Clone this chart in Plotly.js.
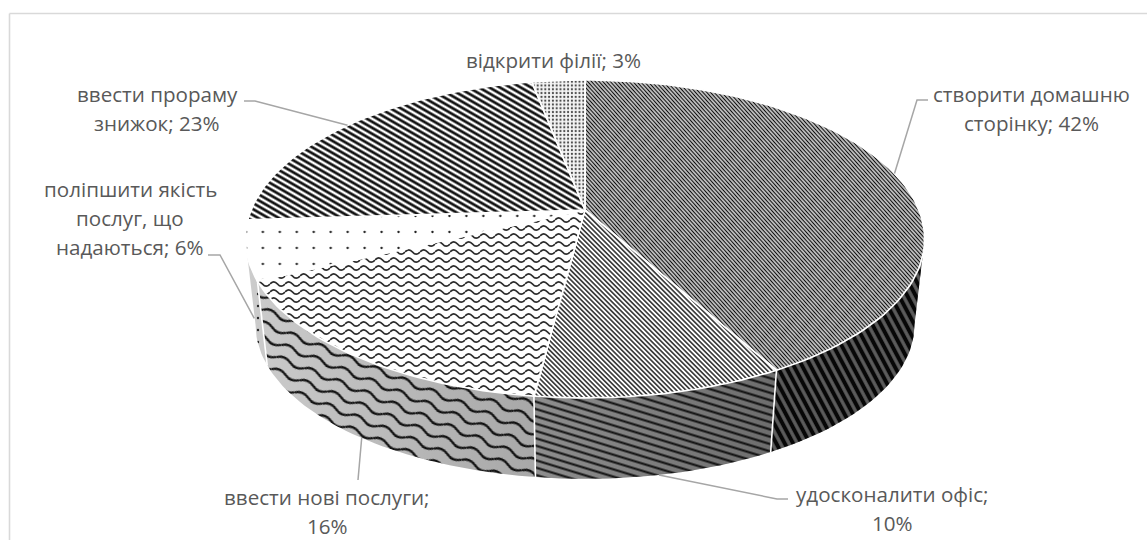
<!DOCTYPE html>
<html lang="uk">
<head>
<meta charset="utf-8">
<title>Кругова діаграма</title>
<script src="https://cdn.plot.ly/plotly-3.0.1.min.js"></script>
<style>
  html, body { margin: 0; padding: 0; background: #fff; }
  #chart { width: 1147px; height: 540px; }
</style>
</head>
<body>
<div id="chart"></div>
<script>
// Slice data, clockwise from twelve o'clock
const categories = ['створити домашню сторінку', 'удосконалити офіс', 'ввести нові послуги',
  'поліпшити якість послуг, що надаються', 'ввести прораму знижок', 'відкрити філії'];
const values = [42, 10, 16, 6, 23, 3];

// How each label wraps
const labelLines = [
  ['створити домашню', 'сторінку; 42%'],
  ['удосконалити офіс;', '10%'],
  ['ввести нові послуги;', '16%'],
  ['поліпшити якість', 'послуг, що', 'надаються; 6%'],
  ['ввести прораму', 'знижок; 23%'],
  ['відкрити філії; 3%']
];
const labelCenterX = [1031, 892, 327, 130, 157, 553];
const labelFirstY = [94, 494, 497, 189, 94, 60];
const labelLineStep = 29;

// Leader elbows: label end, then bend; the third point is the slice anchor
const leaderStart = [[928, 100], [788, 499], [358, 480], [208, 255], [244, 101], null];
const leaderBend = [[917, 100], [777, 499], null, [220, 255], [255, 101], null];
const leaderDepth = [0, 1, 1, 0.8, 0, 0];

// Perspective model of the tilted disc
const cx = 585, cyTop = 210, cyBottom = 296.6;
const radiusX = 334, radiusY = 153.7, tilt = 0.182, bottomScale = 0.97;

function rimPoint(deg, depth) {
  const t = deg * Math.PI / 180, u = Math.sin(t), v = Math.cos(t), w = 1 + tilt * v;
  const topX = cx + radiusX * u / w, topY = cyTop - radiusY * v / w;
  const lowX = cx + bottomScale * radiusX * u / w, lowY = cyBottom - bottomScale * radiusY * v / w;
  return [topX + (lowX - topX) * depth, topY + (lowY - topY) * depth];
}
function arc(from, to, depth) {
  const n = Math.max(2, Math.ceil(Math.abs(to - from) / 1.5));
  const pts = [];
  for (let i = 0; i <= n; i++) pts.push(rimPoint(from + (to - from) * i / n, depth));
  return pts;
}

const total = values.reduce((a, b) => a + b, 0);
const startDeg = [], endDeg = [];
values.reduce((acc, v, i) => {
  startDeg[i] = acc / total * 360;
  endDeg[i] = (acc + v) / total * 360;
  return acc + v;
}, 0);

// Part of the wall that faces the viewer
const horizonDeg = 90 + Math.asin(tilt) * 180 / Math.PI;
const wallFrom = horizonDeg, wallTo = 360 - horizonDeg;

// Fill styles for the top face and the wall of each slice
const topPatterns = [
  { shape: '-', size: 2.8, solidity: 0.5, fgcolor: '#0d0d0d', bgcolor: '#f2f2f2' },
  { shape: '-', size: 3.4, solidity: 0.42, fgcolor: '#1a1a1a', bgcolor: '#ffffff' },
  { shape: '-', size: 8, solidity: 0.2, fgcolor: '#333333', bgcolor: '#ffffff' },
  { shape: '.', size: 16, solidity: 0.016, fgcolor: '#222222', bgcolor: '#ffffff' },
  { shape: '-', size: 5.2, solidity: 0.52, fgcolor: '#111111', bgcolor: '#ffffff' },
  { shape: '.', size: 3.8, solidity: 0.26, fgcolor: '#444444', bgcolor: '#f4f4f4' }
];
const sidePatterns = [
  { shape: '-', size: 7.4, solidity: 0.55, fgcolor: '#0d0d0d', bgcolor: '#b8b8b8' },
  { shape: '-', size: 7, solidity: 0.3, fgcolor: '#1a1a1a', bgcolor: '#d8d8d8' },
  { shape: '-', size: 13, solidity: 0.2, fgcolor: '#222222', bgcolor: '#ffffff' },
  { shape: '.', size: 12, solidity: 0.03, fgcolor: '#333333', bgcolor: '#ffffff' },
  { shape: '-', size: 5, solidity: 0.5, fgcolor: '#111111', bgcolor: '#ffffff' },
  { shape: '.', size: 4, solidity: 0.4, fgcolor: '#333333', bgcolor: '#ffffff' }
];
const topTransforms = ['rotate(48)', 'rotate(45)', '', 'scale(1.06,1)', 'rotate(30)', ''];
const sideTransforms = ['rotate(62)', 'rotate(17)', 'rotate(22)', '', '', ''];
const wavyIndex = 2;
const wavyTop = { w: 15, h: 8, amp: 2.2, width: 1.8, color: '#2b2b2b' };
const wavySide = { w: 30, h: 13, amp: 2.5, width: 2.3, color: '#1a1a1a' };

function polygon(pts, extra) {
  return Object.assign({
    x: pts.map(p => p[0]), y: pts.map(p => p[1]),
    type: 'scatter', mode: 'lines', fill: 'toself',
    hoverinfo: 'skip', showlegend: false
  }, extra);
}

const traces = [];
const sideTraceIdx = {}, topTraceIdx = {};

// Walls
values.forEach((v, i) => {
  const a = Math.max(startDeg[i], wallFrom), b = Math.min(endDeg[i], wallTo);
  if (b <= a) return;
  const pts = arc(a, b, 0).concat(arc(b, a, 1));
  pts.push(pts[0]);
  sideTraceIdx[i] = traces.length;
  traces.push(polygon(pts, {
    name: categories[i] + ' (стінка)',
    line: { width: 0, color: 'rgba(0,0,0,0)' },
    fillpattern: sidePatterns[i], fillcolor: sidePatterns[i].bgcolor
  }));
});

// Shading across the wall, darker to the right
const wallPts = arc(wallFrom, wallTo, 0).concat(arc(wallTo, wallFrom, 1));
wallPts.push(wallPts[0]);
traces.push(polygon(wallPts, {
  name: 'тінь',
  line: { width: 0, color: 'rgba(0,0,0,0)' },
  fillgradient: {
    type: 'horizontal',
    colorscale: [[0, 'rgba(0,0,0,0.2)'], [0.416, 'rgba(0,0,0,0.34)'], [0.787, 'rgba(0,0,0,0.5)'], [1, 'rgba(0,0,0,0.5)']]
  }
}));

// White seams between the wall segments
const seamX = [], seamY = [];
values.forEach((v, i) => {
  const d = endDeg[i];
  if (d > wallFrom && d < wallTo) {
    const p = rimPoint(d, 0), q = rimPoint(d, 1);
    seamX.push(p[0], q[0], null);
    seamY.push(p[1], q[1], null);
  }
});
traces.push({
  x: seamX, y: seamY, type: 'scatter', mode: 'lines', name: 'шви',
  line: { color: '#ffffff', width: 1.6 }, hoverinfo: 'skip', showlegend: false
});

// Top faces
values.forEach((v, i) => {
  const pts = [[cx, cyTop]].concat(arc(startDeg[i], endDeg[i], 0));
  pts.push(pts[0]);
  topTraceIdx[i] = traces.length;
  traces.push(polygon(pts, {
    name: categories[i],
    line: { color: '#ffffff', width: 1.7 },
    fillpattern: topPatterns[i], fillcolor: topPatterns[i].bgcolor
  }));
});

// Frame on the left and top
const shapes = [
  { type: 'line', xref: 'x', yref: 'y', x0: 9.5, x1: 9.5, y0: 13.5, y1: 540, line: { color: '#d9d9d9', width: 1.6 } },
  { type: 'line', xref: 'x', yref: 'y', x0: 9.5, x1: 1147, y0: 13.5, y1: 13.5, line: { color: '#d9d9d9', width: 1.6 } }
];

// Leader lines run from each label to the middle of its slice
values.forEach((v, i) => {
  if (!leaderStart[i]) return;
  const anchor = rimPoint((startDeg[i] + endDeg[i]) / 2, leaderDepth[i]);
  const pts = [leaderStart[i]];
  if (leaderBend[i]) pts.push(leaderBend[i]);
  pts.push(anchor);
  shapes.push({
    type: 'path', xref: 'x', yref: 'y',
    path: 'M' + pts.map(p => p[0] + ',' + p[1]).join('L'),
    line: { color: '#a6a6a6', width: 1.5 }
  });
});

// Each text line is placed by itself to keep the wide line spacing
const annotations = [];
labelLines.forEach((lines, i) => {
  lines.forEach((text, k) => annotations.push({
    x: labelCenterX[i], y: labelFirstY[i] + k * labelLineStep,
    xref: 'x', yref: 'y', text, showarrow: false,
    xanchor: 'center', yanchor: 'middle',
    font: { family: '"Open Sans", sans-serif', size: 20.6, color: '#595959' }
  }));
});

const layout = {
  width: 1147, height: 540,
  margin: { l: 0, r: 0, t: 0, b: 0 },
  paper_bgcolor: '#ffffff', plot_bgcolor: '#ffffff',
  showlegend: false,
  xaxis: { range: [0, 1147], visible: false, fixedrange: true },
  yaxis: { range: [540, 0], visible: false, fixedrange: true },
  shapes, annotations
};

// Rotates and reshapes the generated tile definitions, which the trace
// attributes alone cannot express, and draws the wavy tile.
function refinePatterns(gd) {
  const groups = gd.querySelectorAll('.scatterlayer .trace');
  const tileOf = idx => {
    const g = groups[idx];
    const fill = g && g.querySelector('.js-fill');
    if (!fill) return null;
    const m = /url\(["']?[^#]*#([^"')]+)/.exec(fill.style.fill || fill.getAttribute('style') || '');
    return m ? document.getElementById(m[1]) : null;
  };
  const wave = (tile, o) => {
    tile.setAttribute('width', o.w);
    tile.setAttribute('height', o.h);
    const mid = o.h / 2, w = o.w;
    const bg = tile.querySelector('rect');
    const bgAttr = bg ? bg.getAttribute('fill') : '#ffffff';
    tile.innerHTML =
      '<rect width="' + w + '" height="' + o.h + '" fill="' + bgAttr + '"/>' +
      '<path d="M0,' + mid + 'Q' + (w / 4) + ',' + (mid - 2 * o.amp) + ' ' + (w / 2) + ',' + mid +
      'T' + w + ',' + mid + '" fill="none" stroke="' + o.color + '" stroke-width="' + o.width + '"/>';
  };
  values.forEach((v, i) => {
    const top = tileOf(topTraceIdx[i]);
    if (top) {
      if (i === wavyIndex) wave(top, wavyTop);
      if (topTransforms[i]) top.setAttribute('patternTransform', topTransforms[i]);
    }
    if (sideTraceIdx[i] !== undefined) {
      const side = tileOf(sideTraceIdx[i]);
      if (side) {
        if (i === wavyIndex) wave(side, wavySide);
        if (sideTransforms[i]) side.setAttribute('patternTransform', sideTransforms[i]);
      }
    }
  });
}

Plotly.newPlot('chart', traces, layout, { displayModeBar: false, staticPlot: true })
  .then(refinePatterns);
</script>
</body>
</html>
